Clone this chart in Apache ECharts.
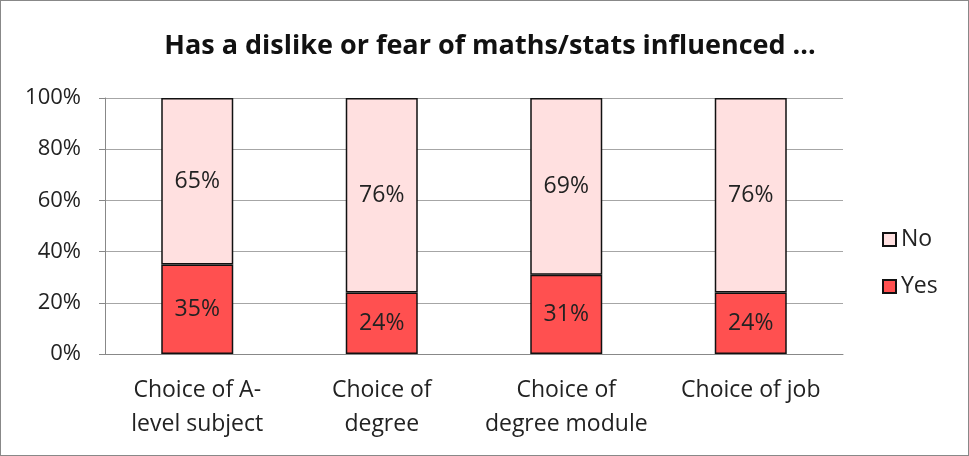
<!DOCTYPE html>
<html>
<head>
<meta charset="utf-8">
<style>
html, body { margin: 0; padding: 0; background: #fff; }
#chart { width: 967px; height: 454px; border: 1px solid #888; }
</style>
<script src="https://cdn.jsdelivr.net/npm/echarts@6/dist/echarts.min.js"></script>
</head>
<body>
<div id="chart"></div>
<script>
// 数据
var categories = ["Choice of A-\nlevel subject", "Choice of\ndegree", "Choice of\ndegree module", "Choice of job"];
var yesValues = [35, 24, 31, 24];
var noValues = [65, 76, 69, 76];
var yTicks = [0, 20, 40, 60, 80, 100];

var font = "'Open Sans', 'Liberation Sans', sans-serif";
var myChart = echarts.init(document.getElementById("chart"));

var labelStyle = {
  show: true,
  position: "inside",
  formatter: "{c}%",
  color: "#222",
  fontSize: 23,
  fontFamily: font
};

var option = {
  animation: false,
  title: {
    text: "Has a dislike or fear of maths/stats influenced ...",
    left: 484,
    textAlign: "center",
    top: 27,
    textStyle: { fontSize: 27, fontWeight: "bold", color: "#111", fontFamily: font }
  },
  legend: {
    orient: "vertical",
    left: 876,
    top: 222,
    itemGap: 24,
    itemWidth: 13,
    itemHeight: 13,
    icon: "rect",
    data: ["No", "Yes"],
    textStyle: { fontSize: 23, color: "#222", fontFamily: font }
  },
  grid: { left: 104, right: 125, top: 97, bottom: 101 },
  xAxis: {
    type: "category",
    data: categories,
    axisLine: { lineStyle: { color: "#888" } },
    axisTick: { show: false },
    axisLabel: {
      interval: 0,
      hideOverlap: false,
      fontSize: 23,
      color: "#222",
      fontFamily: font,
      lineHeight: 34,
      margin: 19
    }
  },
  yAxis: {
    type: "value",
    min: yTicks[0],
    max: yTicks[yTicks.length - 1],
    interval: 20,
    axisLine: { show: true, lineStyle: { color: "#888" } },
    axisTick: { show: true, length: 6, lineStyle: { color: "#888" } },
    splitLine: { lineStyle: { color: "#a6a6a6" } },
    axisLabel: { formatter: "{value}%", fontSize: 22, color: "#222", fontFamily: font, margin: 24 }
  },
  series: [
    {
      name: "Yes",
      type: "bar",
      stack: "total",
      barWidth: 72,
      data: yesValues,
      label: labelStyle,
      itemStyle: { color: "#FF5050", borderColor: "#111", borderWidth: 1.5 }
    },
    {
      name: "No",
      type: "bar",
      stack: "total",
      barWidth: 72,
      data: noValues,
      label: labelStyle,
      itemStyle: { color: "#FFE0E0", borderColor: "#111", borderWidth: 1.5 }
    }
  ]
};
myChart.setOption(option);
</script>
</body>
</html>
